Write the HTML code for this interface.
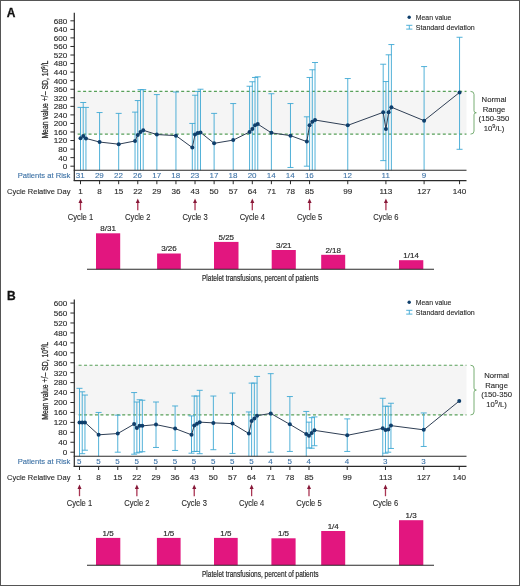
<!DOCTYPE html>
<html><head><meta charset="utf-8"><style>
html,body{margin:0;padding:0;background:#fff;}
svg{display:block;font-family:"Liberation Sans", sans-serif;will-change:transform;}
</style></head><body>
<svg width="520" height="586" viewBox="0 0 520 586">
<rect width="520" height="586" fill="#fff"/>
<rect x="0.5" y="0.5" width="519" height="585" fill="none" stroke="#555" stroke-width="1"/>
<text x="6.7" y="17.3" font-size="12" font-weight="bold" fill="#111" stroke="#111" stroke-width="0.3">A</text>
<text x="6.9" y="299.6" font-size="12" font-weight="bold" fill="#111" stroke="#111" stroke-width="0.3">B</text>
<rect x="74.30" y="91.37" width="392.20" height="42.76" fill="#f5f5f5"/>
<line x1="77.65" y1="91.37" x2="466.50" y2="91.37" stroke="#58a05a" stroke-width="1.15" stroke-dasharray="3,2.45"/>
<line x1="77.65" y1="134.13" x2="466.50" y2="134.13" stroke="#58a05a" stroke-width="1.15" stroke-dasharray="3,2.45"/>
<path d="M470.5,91.36999999999999 Q474.0,91.36999999999999 474.0,94.36999999999999 L474.0,110.75 Q474.0,112.75 476.3,112.75 Q474.0,112.75 474.0,114.75 L474.0,131.13 Q474.0,134.13 470.5,134.13" fill="none" stroke="#6aa565" stroke-width="0.9"/>
<text x="494.00" y="101.95" font-size="7.7" text-anchor="middle" fill="#2b2b2b" stroke="#2b2b2b" stroke-width="0.12" >Normal</text>
<text x="494.00" y="111.60" font-size="7.7" text-anchor="middle" fill="#2b2b2b" stroke="#2b2b2b" stroke-width="0.12" >Range</text>
<text x="494.00" y="121.25" font-size="7.7" text-anchor="middle" fill="#2b2b2b" stroke="#2b2b2b" stroke-width="0.12" >(150-350</text>
<text x="494.00" y="130.90" font-size="7.7" text-anchor="middle" fill="#2b2b2b" stroke="#2b2b2b" stroke-width="0.12" >10<tspan font-size="5.6" dy="-2.8">9</tspan><tspan dy="2.8">/L)</tspan></text>
<line x1="80.50" y1="107.41" x2="80.50" y2="170.30" stroke="#3ea8d4" stroke-width="0.9"/>
<line x1="77.50" y1="107.41" x2="83.50" y2="107.41" stroke="#3ea8d4" stroke-width="0.9"/>
<line x1="83.23" y1="102.49" x2="83.23" y2="170.30" stroke="#3ea8d4" stroke-width="0.9"/>
<line x1="80.23" y1="102.49" x2="86.23" y2="102.49" stroke="#3ea8d4" stroke-width="0.9"/>
<line x1="85.95" y1="107.41" x2="85.95" y2="170.30" stroke="#3ea8d4" stroke-width="0.9"/>
<line x1="82.95" y1="107.41" x2="88.95" y2="107.41" stroke="#3ea8d4" stroke-width="0.9"/>
<line x1="99.59" y1="112.54" x2="99.59" y2="170.30" stroke="#3ea8d4" stroke-width="0.9"/>
<line x1="96.59" y1="112.54" x2="102.59" y2="112.54" stroke="#3ea8d4" stroke-width="0.9"/>
<line x1="118.68" y1="113.39" x2="118.68" y2="170.30" stroke="#3ea8d4" stroke-width="0.9"/>
<line x1="115.68" y1="113.39" x2="121.68" y2="113.39" stroke="#3ea8d4" stroke-width="0.9"/>
<line x1="135.04" y1="112.11" x2="135.04" y2="170.30" stroke="#3ea8d4" stroke-width="0.9"/>
<line x1="132.04" y1="112.11" x2="138.04" y2="112.11" stroke="#3ea8d4" stroke-width="0.9"/>
<line x1="137.77" y1="100.56" x2="137.77" y2="170.30" stroke="#3ea8d4" stroke-width="0.9"/>
<line x1="134.77" y1="100.56" x2="140.77" y2="100.56" stroke="#3ea8d4" stroke-width="0.9"/>
<line x1="140.49" y1="89.66" x2="140.49" y2="170.30" stroke="#3ea8d4" stroke-width="0.9"/>
<line x1="137.49" y1="89.66" x2="143.49" y2="89.66" stroke="#3ea8d4" stroke-width="0.9"/>
<line x1="143.22" y1="89.66" x2="143.22" y2="170.30" stroke="#3ea8d4" stroke-width="0.9"/>
<line x1="140.22" y1="89.66" x2="146.22" y2="89.66" stroke="#3ea8d4" stroke-width="0.9"/>
<line x1="156.86" y1="94.58" x2="156.86" y2="170.30" stroke="#3ea8d4" stroke-width="0.9"/>
<line x1="153.86" y1="94.58" x2="159.86" y2="94.58" stroke="#3ea8d4" stroke-width="0.9"/>
<line x1="175.94" y1="92.01" x2="175.94" y2="170.30" stroke="#3ea8d4" stroke-width="0.9"/>
<line x1="172.94" y1="92.01" x2="178.94" y2="92.01" stroke="#3ea8d4" stroke-width="0.9"/>
<line x1="192.31" y1="123.44" x2="192.31" y2="170.30" stroke="#3ea8d4" stroke-width="0.9"/>
<line x1="189.31" y1="123.44" x2="195.31" y2="123.44" stroke="#3ea8d4" stroke-width="0.9"/>
<line x1="195.03" y1="95.22" x2="195.03" y2="170.30" stroke="#3ea8d4" stroke-width="0.9"/>
<line x1="192.03" y1="95.22" x2="198.03" y2="95.22" stroke="#3ea8d4" stroke-width="0.9"/>
<line x1="197.76" y1="91.37" x2="197.76" y2="170.30" stroke="#3ea8d4" stroke-width="0.9"/>
<line x1="194.76" y1="91.37" x2="200.76" y2="91.37" stroke="#3ea8d4" stroke-width="0.9"/>
<line x1="200.49" y1="89.23" x2="200.49" y2="170.30" stroke="#3ea8d4" stroke-width="0.9"/>
<line x1="197.49" y1="89.23" x2="203.49" y2="89.23" stroke="#3ea8d4" stroke-width="0.9"/>
<line x1="214.12" y1="113.39" x2="214.12" y2="170.30" stroke="#3ea8d4" stroke-width="0.9"/>
<line x1="211.12" y1="113.39" x2="217.12" y2="113.39" stroke="#3ea8d4" stroke-width="0.9"/>
<line x1="233.21" y1="103.56" x2="233.21" y2="170.30" stroke="#3ea8d4" stroke-width="0.9"/>
<line x1="230.21" y1="103.56" x2="236.21" y2="103.56" stroke="#3ea8d4" stroke-width="0.9"/>
<line x1="249.57" y1="86.24" x2="249.57" y2="170.30" stroke="#3ea8d4" stroke-width="0.9"/>
<line x1="246.57" y1="86.24" x2="252.57" y2="86.24" stroke="#3ea8d4" stroke-width="0.9"/>
<line x1="252.30" y1="81.75" x2="252.30" y2="170.30" stroke="#3ea8d4" stroke-width="0.9"/>
<line x1="249.30" y1="81.75" x2="255.30" y2="81.75" stroke="#3ea8d4" stroke-width="0.9"/>
<line x1="255.03" y1="77.47" x2="255.03" y2="170.30" stroke="#3ea8d4" stroke-width="0.9"/>
<line x1="252.03" y1="77.47" x2="258.03" y2="77.47" stroke="#3ea8d4" stroke-width="0.9"/>
<line x1="257.75" y1="76.83" x2="257.75" y2="170.30" stroke="#3ea8d4" stroke-width="0.9"/>
<line x1="254.75" y1="76.83" x2="260.75" y2="76.83" stroke="#3ea8d4" stroke-width="0.9"/>
<line x1="271.39" y1="93.72" x2="271.39" y2="170.30" stroke="#3ea8d4" stroke-width="0.9"/>
<line x1="268.39" y1="93.72" x2="274.39" y2="93.72" stroke="#3ea8d4" stroke-width="0.9"/>
<line x1="290.48" y1="103.56" x2="290.48" y2="167.48" stroke="#3ea8d4" stroke-width="0.9"/>
<line x1="287.48" y1="167.48" x2="293.48" y2="167.48" stroke="#3ea8d4" stroke-width="0.9"/>
<line x1="287.48" y1="103.56" x2="293.48" y2="103.56" stroke="#3ea8d4" stroke-width="0.9"/>
<line x1="306.84" y1="116.81" x2="306.84" y2="166.20" stroke="#3ea8d4" stroke-width="0.9"/>
<line x1="303.84" y1="166.20" x2="309.84" y2="166.20" stroke="#3ea8d4" stroke-width="0.9"/>
<line x1="303.84" y1="116.81" x2="309.84" y2="116.81" stroke="#3ea8d4" stroke-width="0.9"/>
<line x1="309.57" y1="77.47" x2="309.57" y2="170.30" stroke="#3ea8d4" stroke-width="0.9"/>
<line x1="306.57" y1="77.47" x2="312.57" y2="77.47" stroke="#3ea8d4" stroke-width="0.9"/>
<line x1="312.29" y1="69.78" x2="312.29" y2="170.30" stroke="#3ea8d4" stroke-width="0.9"/>
<line x1="309.29" y1="69.78" x2="315.29" y2="69.78" stroke="#3ea8d4" stroke-width="0.9"/>
<line x1="315.02" y1="62.51" x2="315.02" y2="170.30" stroke="#3ea8d4" stroke-width="0.9"/>
<line x1="312.02" y1="62.51" x2="318.02" y2="62.51" stroke="#3ea8d4" stroke-width="0.9"/>
<line x1="347.75" y1="78.54" x2="347.75" y2="170.30" stroke="#3ea8d4" stroke-width="0.9"/>
<line x1="344.75" y1="78.54" x2="350.75" y2="78.54" stroke="#3ea8d4" stroke-width="0.9"/>
<line x1="383.20" y1="64.22" x2="383.20" y2="160.64" stroke="#3ea8d4" stroke-width="0.9"/>
<line x1="380.20" y1="160.64" x2="386.20" y2="160.64" stroke="#3ea8d4" stroke-width="0.9"/>
<line x1="380.20" y1="64.22" x2="386.20" y2="64.22" stroke="#3ea8d4" stroke-width="0.9"/>
<line x1="385.92" y1="81.54" x2="385.92" y2="170.30" stroke="#3ea8d4" stroke-width="0.9"/>
<line x1="382.92" y1="81.54" x2="388.92" y2="81.54" stroke="#3ea8d4" stroke-width="0.9"/>
<line x1="388.65" y1="54.81" x2="388.65" y2="170.30" stroke="#3ea8d4" stroke-width="0.9"/>
<line x1="385.65" y1="54.81" x2="391.65" y2="54.81" stroke="#3ea8d4" stroke-width="0.9"/>
<line x1="391.38" y1="44.55" x2="391.38" y2="170.30" stroke="#3ea8d4" stroke-width="0.9"/>
<line x1="388.38" y1="44.55" x2="394.38" y2="44.55" stroke="#3ea8d4" stroke-width="0.9"/>
<line x1="424.10" y1="66.57" x2="424.10" y2="170.30" stroke="#3ea8d4" stroke-width="0.9"/>
<line x1="421.10" y1="66.57" x2="427.10" y2="66.57" stroke="#3ea8d4" stroke-width="0.9"/>
<line x1="459.55" y1="37.28" x2="459.55" y2="149.31" stroke="#3ea8d4" stroke-width="0.9"/>
<line x1="456.55" y1="149.31" x2="462.55" y2="149.31" stroke="#3ea8d4" stroke-width="0.9"/>
<line x1="456.55" y1="37.28" x2="462.55" y2="37.28" stroke="#3ea8d4" stroke-width="0.9"/>
<polyline points="80.50,138.19 83.23,136.05 85.95,138.41 99.59,142.04 118.68,144.18 135.04,140.97 137.77,134.99 140.49,131.99 143.22,130.28 156.86,134.56 175.94,135.63 192.31,147.60 195.03,134.56 197.76,133.06 200.49,132.42 214.12,143.32 233.21,140.12 249.57,131.99 252.30,129.00 255.03,125.15 257.75,124.08 271.39,132.85 290.48,135.63 306.84,141.61 309.57,125.36 312.29,121.73 315.02,120.02 347.75,125.36 383.20,112.32 385.92,129.00 388.65,112.32 391.38,107.19 424.10,120.66 459.55,92.44" fill="none" stroke="#2f3f55" stroke-width="1"/>
<circle cx="80.50" cy="138.19" r="2" fill="#0f3f6c"/>
<circle cx="83.23" cy="136.05" r="2" fill="#0f3f6c"/>
<circle cx="85.95" cy="138.41" r="2" fill="#0f3f6c"/>
<circle cx="99.59" cy="142.04" r="2" fill="#0f3f6c"/>
<circle cx="118.68" cy="144.18" r="2" fill="#0f3f6c"/>
<circle cx="135.04" cy="140.97" r="2" fill="#0f3f6c"/>
<circle cx="137.77" cy="134.99" r="2" fill="#0f3f6c"/>
<circle cx="140.49" cy="131.99" r="2" fill="#0f3f6c"/>
<circle cx="143.22" cy="130.28" r="2" fill="#0f3f6c"/>
<circle cx="156.86" cy="134.56" r="2" fill="#0f3f6c"/>
<circle cx="175.94" cy="135.63" r="2" fill="#0f3f6c"/>
<circle cx="192.31" cy="147.60" r="2" fill="#0f3f6c"/>
<circle cx="195.03" cy="134.56" r="2" fill="#0f3f6c"/>
<circle cx="197.76" cy="133.06" r="2" fill="#0f3f6c"/>
<circle cx="200.49" cy="132.42" r="2" fill="#0f3f6c"/>
<circle cx="214.12" cy="143.32" r="2" fill="#0f3f6c"/>
<circle cx="233.21" cy="140.12" r="2" fill="#0f3f6c"/>
<circle cx="249.57" cy="131.99" r="2" fill="#0f3f6c"/>
<circle cx="252.30" cy="129.00" r="2" fill="#0f3f6c"/>
<circle cx="255.03" cy="125.15" r="2" fill="#0f3f6c"/>
<circle cx="257.75" cy="124.08" r="2" fill="#0f3f6c"/>
<circle cx="271.39" cy="132.85" r="2" fill="#0f3f6c"/>
<circle cx="290.48" cy="135.63" r="2" fill="#0f3f6c"/>
<circle cx="306.84" cy="141.61" r="2" fill="#0f3f6c"/>
<circle cx="309.57" cy="125.36" r="2" fill="#0f3f6c"/>
<circle cx="312.29" cy="121.73" r="2" fill="#0f3f6c"/>
<circle cx="315.02" cy="120.02" r="2" fill="#0f3f6c"/>
<circle cx="347.75" cy="125.36" r="2" fill="#0f3f6c"/>
<circle cx="383.20" cy="112.32" r="2" fill="#0f3f6c"/>
<circle cx="385.92" cy="129.00" r="2" fill="#0f3f6c"/>
<circle cx="388.65" cy="112.32" r="2" fill="#0f3f6c"/>
<circle cx="391.38" cy="107.19" r="2" fill="#0f3f6c"/>
<circle cx="424.10" cy="120.66" r="2" fill="#0f3f6c"/>
<circle cx="459.55" cy="92.44" r="2" fill="#0f3f6c"/>
<line x1="74.3" y1="12.8" x2="74.3" y2="181.1" stroke="#2a2a2a" stroke-width="1.2"/>
<line x1="73.7" y1="170.3" x2="466.5" y2="170.3" stroke="#2a2a2a" stroke-width="1.1"/>
<line x1="73.7" y1="180.6" x2="466.5" y2="180.6" stroke="#2a2a2a" stroke-width="1.3"/>
<line x1="70.4" y1="166.20" x2="74.3" y2="166.20" stroke="#2a2a2a" stroke-width="1"/>
<text x="67.30" y="169.05" font-size="8.1" text-anchor="end" fill="#2b2b2b" stroke="#2b2b2b" stroke-width="0.15" >0</text>
<line x1="70.4" y1="157.65" x2="74.3" y2="157.65" stroke="#2a2a2a" stroke-width="1"/>
<text x="67.30" y="160.50" font-size="8.1" text-anchor="end" fill="#2b2b2b" stroke="#2b2b2b" stroke-width="0.15" >40</text>
<line x1="70.4" y1="149.10" x2="74.3" y2="149.10" stroke="#2a2a2a" stroke-width="1"/>
<text x="67.30" y="151.95" font-size="8.1" text-anchor="end" fill="#2b2b2b" stroke="#2b2b2b" stroke-width="0.15" >80</text>
<line x1="70.4" y1="140.54" x2="74.3" y2="140.54" stroke="#2a2a2a" stroke-width="1"/>
<text x="67.30" y="143.39" font-size="8.1" text-anchor="end" fill="#2b2b2b" stroke="#2b2b2b" stroke-width="0.15" >120</text>
<line x1="70.4" y1="131.99" x2="74.3" y2="131.99" stroke="#2a2a2a" stroke-width="1"/>
<text x="67.30" y="134.84" font-size="8.1" text-anchor="end" fill="#2b2b2b" stroke="#2b2b2b" stroke-width="0.15" >160</text>
<line x1="70.4" y1="123.44" x2="74.3" y2="123.44" stroke="#2a2a2a" stroke-width="1"/>
<text x="67.30" y="126.29" font-size="8.1" text-anchor="end" fill="#2b2b2b" stroke="#2b2b2b" stroke-width="0.15" >200</text>
<line x1="70.4" y1="114.89" x2="74.3" y2="114.89" stroke="#2a2a2a" stroke-width="1"/>
<text x="67.30" y="117.74" font-size="8.1" text-anchor="end" fill="#2b2b2b" stroke="#2b2b2b" stroke-width="0.15" >240</text>
<line x1="70.4" y1="106.34" x2="74.3" y2="106.34" stroke="#2a2a2a" stroke-width="1"/>
<text x="67.30" y="109.19" font-size="8.1" text-anchor="end" fill="#2b2b2b" stroke="#2b2b2b" stroke-width="0.15" >280</text>
<line x1="70.4" y1="97.78" x2="74.3" y2="97.78" stroke="#2a2a2a" stroke-width="1"/>
<text x="67.30" y="100.63" font-size="8.1" text-anchor="end" fill="#2b2b2b" stroke="#2b2b2b" stroke-width="0.15" >320</text>
<line x1="70.4" y1="89.23" x2="74.3" y2="89.23" stroke="#2a2a2a" stroke-width="1"/>
<text x="67.30" y="92.08" font-size="8.1" text-anchor="end" fill="#2b2b2b" stroke="#2b2b2b" stroke-width="0.15" >360</text>
<line x1="70.4" y1="80.68" x2="74.3" y2="80.68" stroke="#2a2a2a" stroke-width="1"/>
<text x="67.30" y="83.53" font-size="8.1" text-anchor="end" fill="#2b2b2b" stroke="#2b2b2b" stroke-width="0.15" >400</text>
<line x1="70.4" y1="72.13" x2="74.3" y2="72.13" stroke="#2a2a2a" stroke-width="1"/>
<text x="67.30" y="74.98" font-size="8.1" text-anchor="end" fill="#2b2b2b" stroke="#2b2b2b" stroke-width="0.15" >440</text>
<line x1="70.4" y1="63.58" x2="74.3" y2="63.58" stroke="#2a2a2a" stroke-width="1"/>
<text x="67.30" y="66.43" font-size="8.1" text-anchor="end" fill="#2b2b2b" stroke="#2b2b2b" stroke-width="0.15" >480</text>
<line x1="70.4" y1="55.02" x2="74.3" y2="55.02" stroke="#2a2a2a" stroke-width="1"/>
<text x="67.30" y="57.87" font-size="8.1" text-anchor="end" fill="#2b2b2b" stroke="#2b2b2b" stroke-width="0.15" >520</text>
<line x1="70.4" y1="46.47" x2="74.3" y2="46.47" stroke="#2a2a2a" stroke-width="1"/>
<text x="67.30" y="49.32" font-size="8.1" text-anchor="end" fill="#2b2b2b" stroke="#2b2b2b" stroke-width="0.15" >560</text>
<line x1="70.4" y1="37.92" x2="74.3" y2="37.92" stroke="#2a2a2a" stroke-width="1"/>
<text x="67.30" y="40.77" font-size="8.1" text-anchor="end" fill="#2b2b2b" stroke="#2b2b2b" stroke-width="0.15" >600</text>
<line x1="70.4" y1="29.37" x2="74.3" y2="29.37" stroke="#2a2a2a" stroke-width="1"/>
<text x="67.30" y="32.22" font-size="8.1" text-anchor="end" fill="#2b2b2b" stroke="#2b2b2b" stroke-width="0.15" >640</text>
<line x1="70.4" y1="20.82" x2="74.3" y2="20.82" stroke="#2a2a2a" stroke-width="1"/>
<text x="67.30" y="23.67" font-size="8.1" text-anchor="end" fill="#2b2b2b" stroke="#2b2b2b" stroke-width="0.15" >680</text>
<text transform="translate(47.6,99.6) rotate(-90)" font-size="9.1" text-anchor="middle" fill="#2b2b2b" stroke="#2b2b2b" stroke-width="0.28" textLength="78" lengthAdjust="spacingAndGlyphs">Mean value +/– SD, 10<tspan font-size="5.5" dy="-2.8">9</tspan><tspan dy="2.8">/L</tspan></text>
<text x="70.40" y="178.40" font-size="8.0" text-anchor="end" fill="#3d72a6" stroke="#3d72a6" stroke-width="0.12" textLength="52.6" lengthAdjust="spacingAndGlyphs" >Patients at Risk</text>
<text x="80.30" y="178.40" font-size="8.0" text-anchor="middle" fill="#3d72a6" stroke="#3d72a6" stroke-width="0.1" >31</text>
<text x="99.39" y="178.40" font-size="8.0" text-anchor="middle" fill="#3d72a6" stroke="#3d72a6" stroke-width="0.1" >29</text>
<text x="118.48" y="178.40" font-size="8.0" text-anchor="middle" fill="#3d72a6" stroke="#3d72a6" stroke-width="0.1" >22</text>
<text x="137.57" y="178.40" font-size="8.0" text-anchor="middle" fill="#3d72a6" stroke="#3d72a6" stroke-width="0.1" >26</text>
<text x="156.66" y="178.40" font-size="8.0" text-anchor="middle" fill="#3d72a6" stroke="#3d72a6" stroke-width="0.1" >17</text>
<text x="175.75" y="178.40" font-size="8.0" text-anchor="middle" fill="#3d72a6" stroke="#3d72a6" stroke-width="0.1" >18</text>
<text x="194.83" y="178.40" font-size="8.0" text-anchor="middle" fill="#3d72a6" stroke="#3d72a6" stroke-width="0.1" >23</text>
<text x="213.92" y="178.40" font-size="8.0" text-anchor="middle" fill="#3d72a6" stroke="#3d72a6" stroke-width="0.1" >17</text>
<text x="233.01" y="178.40" font-size="8.0" text-anchor="middle" fill="#3d72a6" stroke="#3d72a6" stroke-width="0.1" >18</text>
<text x="252.10" y="178.40" font-size="8.0" text-anchor="middle" fill="#3d72a6" stroke="#3d72a6" stroke-width="0.1" >20</text>
<text x="271.19" y="178.40" font-size="8.0" text-anchor="middle" fill="#3d72a6" stroke="#3d72a6" stroke-width="0.1" >14</text>
<text x="290.28" y="178.40" font-size="8.0" text-anchor="middle" fill="#3d72a6" stroke="#3d72a6" stroke-width="0.1" >14</text>
<text x="309.37" y="178.40" font-size="8.0" text-anchor="middle" fill="#3d72a6" stroke="#3d72a6" stroke-width="0.1" >16</text>
<text x="347.55" y="178.40" font-size="8.0" text-anchor="middle" fill="#3d72a6" stroke="#3d72a6" stroke-width="0.1" >12</text>
<text x="385.72" y="178.40" font-size="8.0" text-anchor="middle" fill="#3d72a6" stroke="#3d72a6" stroke-width="0.1" >11</text>
<text x="423.90" y="178.40" font-size="8.0" text-anchor="middle" fill="#3d72a6" stroke="#3d72a6" stroke-width="0.1" >9</text>
<line x1="80.50" y1="180.6" x2="80.50" y2="184.2" stroke="#2a2a2a" stroke-width="1"/>
<text x="80.50" y="194.20" font-size="8.1" text-anchor="middle" fill="#2b2b2b" stroke="#2b2b2b" stroke-width="0.14" >1</text>
<line x1="99.59" y1="180.6" x2="99.59" y2="184.2" stroke="#2a2a2a" stroke-width="1"/>
<text x="99.59" y="194.20" font-size="8.1" text-anchor="middle" fill="#2b2b2b" stroke="#2b2b2b" stroke-width="0.14" >8</text>
<line x1="118.68" y1="180.6" x2="118.68" y2="184.2" stroke="#2a2a2a" stroke-width="1"/>
<text x="118.68" y="194.20" font-size="8.1" text-anchor="middle" fill="#2b2b2b" stroke="#2b2b2b" stroke-width="0.14" >15</text>
<line x1="137.77" y1="180.6" x2="137.77" y2="184.2" stroke="#2a2a2a" stroke-width="1"/>
<text x="137.77" y="194.20" font-size="8.1" text-anchor="middle" fill="#2b2b2b" stroke="#2b2b2b" stroke-width="0.14" >22</text>
<line x1="156.86" y1="180.6" x2="156.86" y2="184.2" stroke="#2a2a2a" stroke-width="1"/>
<text x="156.86" y="194.20" font-size="8.1" text-anchor="middle" fill="#2b2b2b" stroke="#2b2b2b" stroke-width="0.14" >29</text>
<line x1="175.94" y1="180.6" x2="175.94" y2="184.2" stroke="#2a2a2a" stroke-width="1"/>
<text x="175.94" y="194.20" font-size="8.1" text-anchor="middle" fill="#2b2b2b" stroke="#2b2b2b" stroke-width="0.14" >36</text>
<line x1="195.03" y1="180.6" x2="195.03" y2="184.2" stroke="#2a2a2a" stroke-width="1"/>
<text x="195.03" y="194.20" font-size="8.1" text-anchor="middle" fill="#2b2b2b" stroke="#2b2b2b" stroke-width="0.14" >43</text>
<line x1="214.12" y1="180.6" x2="214.12" y2="184.2" stroke="#2a2a2a" stroke-width="1"/>
<text x="214.12" y="194.20" font-size="8.1" text-anchor="middle" fill="#2b2b2b" stroke="#2b2b2b" stroke-width="0.14" >50</text>
<line x1="233.21" y1="180.6" x2="233.21" y2="184.2" stroke="#2a2a2a" stroke-width="1"/>
<text x="233.21" y="194.20" font-size="8.1" text-anchor="middle" fill="#2b2b2b" stroke="#2b2b2b" stroke-width="0.14" >57</text>
<line x1="252.30" y1="180.6" x2="252.30" y2="184.2" stroke="#2a2a2a" stroke-width="1"/>
<text x="252.30" y="194.20" font-size="8.1" text-anchor="middle" fill="#2b2b2b" stroke="#2b2b2b" stroke-width="0.14" >64</text>
<line x1="271.39" y1="180.6" x2="271.39" y2="184.2" stroke="#2a2a2a" stroke-width="1"/>
<text x="271.39" y="194.20" font-size="8.1" text-anchor="middle" fill="#2b2b2b" stroke="#2b2b2b" stroke-width="0.14" >71</text>
<line x1="290.48" y1="180.6" x2="290.48" y2="184.2" stroke="#2a2a2a" stroke-width="1"/>
<text x="290.48" y="194.20" font-size="8.1" text-anchor="middle" fill="#2b2b2b" stroke="#2b2b2b" stroke-width="0.14" >78</text>
<line x1="309.57" y1="180.6" x2="309.57" y2="184.2" stroke="#2a2a2a" stroke-width="1"/>
<text x="309.57" y="194.20" font-size="8.1" text-anchor="middle" fill="#2b2b2b" stroke="#2b2b2b" stroke-width="0.14" >85</text>
<line x1="347.75" y1="180.6" x2="347.75" y2="184.2" stroke="#2a2a2a" stroke-width="1"/>
<text x="347.75" y="194.20" font-size="8.1" text-anchor="middle" fill="#2b2b2b" stroke="#2b2b2b" stroke-width="0.14" >99</text>
<line x1="385.92" y1="180.6" x2="385.92" y2="184.2" stroke="#2a2a2a" stroke-width="1"/>
<text x="385.92" y="194.20" font-size="8.1" text-anchor="middle" fill="#2b2b2b" stroke="#2b2b2b" stroke-width="0.14" >113</text>
<line x1="424.10" y1="180.6" x2="424.10" y2="184.2" stroke="#2a2a2a" stroke-width="1"/>
<text x="424.10" y="194.20" font-size="8.1" text-anchor="middle" fill="#2b2b2b" stroke="#2b2b2b" stroke-width="0.14" >127</text>
<line x1="459.55" y1="180.6" x2="459.55" y2="184.2" stroke="#2a2a2a" stroke-width="1"/>
<text x="459.55" y="194.20" font-size="8.1" text-anchor="middle" fill="#2b2b2b" stroke="#2b2b2b" stroke-width="0.14" >140</text>
<text x="70.40" y="194.20" font-size="7.9" text-anchor="end" fill="#2b2b2b" stroke="#2b2b2b" stroke-width="0.12" textLength="63.4" lengthAdjust="spacingAndGlyphs" >Cycle Relative Day</text>
<line x1="80.50" y1="201.8" x2="80.50" y2="210.20000000000002" stroke="#aa3553" stroke-width="1.3"/>
<path d="M80.50,198.60000000000002 L82.50,203.10000000000002 L78.50,203.10000000000002 Z" fill="#861737"/>
<text x="80.50" y="220.40" font-size="8.2" text-anchor="middle" fill="#2b2b2b" stroke="#2b2b2b" stroke-width="0.12" textLength="25.3" lengthAdjust="spacingAndGlyphs" >Cycle 1</text>
<line x1="137.77" y1="201.8" x2="137.77" y2="210.20000000000002" stroke="#aa3553" stroke-width="1.3"/>
<path d="M137.77,198.60000000000002 L139.77,203.10000000000002 L135.77,203.10000000000002 Z" fill="#861737"/>
<text x="137.77" y="220.40" font-size="8.2" text-anchor="middle" fill="#2b2b2b" stroke="#2b2b2b" stroke-width="0.12" textLength="25.3" lengthAdjust="spacingAndGlyphs" >Cycle 2</text>
<line x1="195.03" y1="201.8" x2="195.03" y2="210.20000000000002" stroke="#aa3553" stroke-width="1.3"/>
<path d="M195.03,198.60000000000002 L197.03,203.10000000000002 L193.03,203.10000000000002 Z" fill="#861737"/>
<text x="195.03" y="220.40" font-size="8.2" text-anchor="middle" fill="#2b2b2b" stroke="#2b2b2b" stroke-width="0.12" textLength="25.3" lengthAdjust="spacingAndGlyphs" >Cycle 3</text>
<line x1="252.30" y1="201.8" x2="252.30" y2="210.20000000000002" stroke="#aa3553" stroke-width="1.3"/>
<path d="M252.30,198.60000000000002 L254.30,203.10000000000002 L250.30,203.10000000000002 Z" fill="#861737"/>
<text x="252.30" y="220.40" font-size="8.2" text-anchor="middle" fill="#2b2b2b" stroke="#2b2b2b" stroke-width="0.12" textLength="25.3" lengthAdjust="spacingAndGlyphs" >Cycle 4</text>
<line x1="309.57" y1="201.8" x2="309.57" y2="210.20000000000002" stroke="#aa3553" stroke-width="1.3"/>
<path d="M309.57,198.60000000000002 L311.57,203.10000000000002 L307.57,203.10000000000002 Z" fill="#861737"/>
<text x="309.57" y="220.40" font-size="8.2" text-anchor="middle" fill="#2b2b2b" stroke="#2b2b2b" stroke-width="0.12" textLength="25.3" lengthAdjust="spacingAndGlyphs" >Cycle 5</text>
<line x1="385.92" y1="201.8" x2="385.92" y2="210.20000000000002" stroke="#aa3553" stroke-width="1.3"/>
<path d="M385.92,198.60000000000002 L387.92,203.10000000000002 L383.92,203.10000000000002 Z" fill="#861737"/>
<text x="385.92" y="220.40" font-size="8.2" text-anchor="middle" fill="#2b2b2b" stroke="#2b2b2b" stroke-width="0.12" textLength="25.3" lengthAdjust="spacingAndGlyphs" >Cycle 6</text>
<rect x="96" y="233.3" width="24.200000000000003" height="36.0" fill="#e2167f"/>
<text x="108.10" y="231.10" font-size="8.0" text-anchor="middle" fill="#2b2b2b" stroke="#2b2b2b" stroke-width="0.18" >8/31</text>
<rect x="157.1" y="253.5" width="23.700000000000017" height="15.800000000000011" fill="#e2167f"/>
<text x="168.95" y="251.30" font-size="8.0" text-anchor="middle" fill="#2b2b2b" stroke="#2b2b2b" stroke-width="0.18" >3/26</text>
<rect x="214" y="241.9" width="24.5" height="27.400000000000006" fill="#e2167f"/>
<text x="226.25" y="239.70" font-size="8.0" text-anchor="middle" fill="#2b2b2b" stroke="#2b2b2b" stroke-width="0.18" >5/25</text>
<rect x="271.7" y="250" width="24.100000000000023" height="19.30000000000001" fill="#e2167f"/>
<text x="283.75" y="247.80" font-size="8.0" text-anchor="middle" fill="#2b2b2b" stroke="#2b2b2b" stroke-width="0.18" >3/21</text>
<rect x="321.2" y="254.8" width="24.0" height="14.5" fill="#e2167f"/>
<text x="333.20" y="252.60" font-size="8.0" text-anchor="middle" fill="#2b2b2b" stroke="#2b2b2b" stroke-width="0.18" >2/18</text>
<rect x="399" y="260.2" width="24.30000000000001" height="9.100000000000023" fill="#e2167f"/>
<text x="411.15" y="258.00" font-size="8.0" text-anchor="middle" fill="#2b2b2b" stroke="#2b2b2b" stroke-width="0.18" >1/14</text>
<line x1="87" y1="269.3" x2="434" y2="269.3" stroke="#2a2a2a" stroke-width="1.1"/>
<text x="202" y="281.3" font-size="9.3" fill="#2b2b2b" stroke="#2b2b2b" stroke-width="0.22" textLength="116.5" lengthAdjust="spacingAndGlyphs">Platelet transfusions, percent of patients</text>
<rect x="74.30" y="365.23" width="392.20" height="49.70" fill="#f5f5f5"/>
<line x1="78.60" y1="365.23" x2="466.50" y2="365.23" stroke="#58a05a" stroke-width="1.15" stroke-dasharray="3,2.45"/>
<line x1="78.60" y1="414.93" x2="466.50" y2="414.93" stroke="#58a05a" stroke-width="1.15" stroke-dasharray="3,2.45"/>
<path d="M470.5,365.225 Q474.0,365.225 474.0,368.225 L474.0,388.07500000000005 Q474.0,390.07500000000005 476.3,390.07500000000005 Q474.0,390.07500000000005 474.0,392.07500000000005 L474.0,411.925 Q474.0,414.925 470.5,414.925" fill="none" stroke="#6aa565" stroke-width="0.9"/>
<text x="496.60" y="378.48" font-size="7.7" text-anchor="middle" fill="#2b2b2b" stroke="#2b2b2b" stroke-width="0.12" >Normal</text>
<text x="496.60" y="387.98" font-size="7.7" text-anchor="middle" fill="#2b2b2b" stroke="#2b2b2b" stroke-width="0.12" >Range</text>
<text x="496.60" y="397.48" font-size="7.7" text-anchor="middle" fill="#2b2b2b" stroke="#2b2b2b" stroke-width="0.12" >(150-350</text>
<text x="496.60" y="406.98" font-size="7.7" text-anchor="middle" fill="#2b2b2b" stroke="#2b2b2b" stroke-width="0.12" >10<tspan font-size="5.6" dy="-2.8">9</tspan><tspan dy="2.8">/L)</tspan></text>
<line x1="79.50" y1="388.34" x2="79.50" y2="456.30" stroke="#3ea8d4" stroke-width="0.9"/>
<line x1="76.50" y1="388.34" x2="82.50" y2="388.34" stroke="#3ea8d4" stroke-width="0.9"/>
<line x1="82.23" y1="391.81" x2="82.23" y2="453.69" stroke="#3ea8d4" stroke-width="0.9"/>
<line x1="79.23" y1="453.69" x2="85.23" y2="453.69" stroke="#3ea8d4" stroke-width="0.9"/>
<line x1="79.23" y1="391.81" x2="85.23" y2="391.81" stroke="#3ea8d4" stroke-width="0.9"/>
<line x1="84.96" y1="395.04" x2="84.96" y2="450.21" stroke="#3ea8d4" stroke-width="0.9"/>
<line x1="81.96" y1="450.21" x2="87.96" y2="450.21" stroke="#3ea8d4" stroke-width="0.9"/>
<line x1="81.96" y1="395.04" x2="87.96" y2="395.04" stroke="#3ea8d4" stroke-width="0.9"/>
<line x1="98.62" y1="412.44" x2="98.62" y2="456.30" stroke="#3ea8d4" stroke-width="0.9"/>
<line x1="95.62" y1="412.44" x2="101.62" y2="412.44" stroke="#3ea8d4" stroke-width="0.9"/>
<line x1="117.75" y1="415.17" x2="117.75" y2="452.20" stroke="#3ea8d4" stroke-width="0.9"/>
<line x1="114.75" y1="452.20" x2="120.75" y2="452.20" stroke="#3ea8d4" stroke-width="0.9"/>
<line x1="114.75" y1="415.17" x2="120.75" y2="415.17" stroke="#3ea8d4" stroke-width="0.9"/>
<line x1="134.14" y1="392.56" x2="134.14" y2="454.19" stroke="#3ea8d4" stroke-width="0.9"/>
<line x1="131.14" y1="454.19" x2="137.14" y2="454.19" stroke="#3ea8d4" stroke-width="0.9"/>
<line x1="131.14" y1="392.56" x2="137.14" y2="392.56" stroke="#3ea8d4" stroke-width="0.9"/>
<line x1="136.87" y1="402.00" x2="136.87" y2="452.95" stroke="#3ea8d4" stroke-width="0.9"/>
<line x1="133.87" y1="452.95" x2="139.87" y2="452.95" stroke="#3ea8d4" stroke-width="0.9"/>
<line x1="133.87" y1="402.00" x2="139.87" y2="402.00" stroke="#3ea8d4" stroke-width="0.9"/>
<line x1="139.60" y1="399.77" x2="139.60" y2="452.20" stroke="#3ea8d4" stroke-width="0.9"/>
<line x1="136.60" y1="452.20" x2="142.60" y2="452.20" stroke="#3ea8d4" stroke-width="0.9"/>
<line x1="136.60" y1="399.77" x2="142.60" y2="399.77" stroke="#3ea8d4" stroke-width="0.9"/>
<line x1="142.34" y1="400.26" x2="142.34" y2="451.70" stroke="#3ea8d4" stroke-width="0.9"/>
<line x1="139.34" y1="451.70" x2="145.34" y2="451.70" stroke="#3ea8d4" stroke-width="0.9"/>
<line x1="139.34" y1="400.26" x2="145.34" y2="400.26" stroke="#3ea8d4" stroke-width="0.9"/>
<line x1="156.00" y1="402.00" x2="156.00" y2="447.48" stroke="#3ea8d4" stroke-width="0.9"/>
<line x1="153.00" y1="447.48" x2="159.00" y2="447.48" stroke="#3ea8d4" stroke-width="0.9"/>
<line x1="153.00" y1="402.00" x2="159.00" y2="402.00" stroke="#3ea8d4" stroke-width="0.9"/>
<line x1="175.12" y1="405.98" x2="175.12" y2="450.46" stroke="#3ea8d4" stroke-width="0.9"/>
<line x1="172.12" y1="450.46" x2="178.12" y2="450.46" stroke="#3ea8d4" stroke-width="0.9"/>
<line x1="172.12" y1="405.98" x2="178.12" y2="405.98" stroke="#3ea8d4" stroke-width="0.9"/>
<line x1="191.51" y1="415.92" x2="191.51" y2="453.19" stroke="#3ea8d4" stroke-width="0.9"/>
<line x1="188.51" y1="453.19" x2="194.51" y2="453.19" stroke="#3ea8d4" stroke-width="0.9"/>
<line x1="188.51" y1="415.92" x2="194.51" y2="415.92" stroke="#3ea8d4" stroke-width="0.9"/>
<line x1="194.24" y1="396.04" x2="194.24" y2="451.45" stroke="#3ea8d4" stroke-width="0.9"/>
<line x1="191.24" y1="451.45" x2="197.24" y2="451.45" stroke="#3ea8d4" stroke-width="0.9"/>
<line x1="191.24" y1="396.04" x2="197.24" y2="396.04" stroke="#3ea8d4" stroke-width="0.9"/>
<line x1="196.98" y1="396.04" x2="196.98" y2="451.45" stroke="#3ea8d4" stroke-width="0.9"/>
<line x1="193.98" y1="451.45" x2="199.98" y2="451.45" stroke="#3ea8d4" stroke-width="0.9"/>
<line x1="193.98" y1="396.04" x2="199.98" y2="396.04" stroke="#3ea8d4" stroke-width="0.9"/>
<line x1="199.71" y1="390.32" x2="199.71" y2="453.69" stroke="#3ea8d4" stroke-width="0.9"/>
<line x1="196.71" y1="453.69" x2="202.71" y2="453.69" stroke="#3ea8d4" stroke-width="0.9"/>
<line x1="196.71" y1="390.32" x2="202.71" y2="390.32" stroke="#3ea8d4" stroke-width="0.9"/>
<line x1="213.37" y1="396.04" x2="213.37" y2="449.71" stroke="#3ea8d4" stroke-width="0.9"/>
<line x1="210.37" y1="449.71" x2="216.37" y2="449.71" stroke="#3ea8d4" stroke-width="0.9"/>
<line x1="210.37" y1="396.04" x2="216.37" y2="396.04" stroke="#3ea8d4" stroke-width="0.9"/>
<line x1="232.49" y1="393.06" x2="232.49" y2="453.44" stroke="#3ea8d4" stroke-width="0.9"/>
<line x1="229.49" y1="453.44" x2="235.49" y2="453.44" stroke="#3ea8d4" stroke-width="0.9"/>
<line x1="229.49" y1="393.06" x2="235.49" y2="393.06" stroke="#3ea8d4" stroke-width="0.9"/>
<line x1="248.88" y1="411.94" x2="248.88" y2="456.30" stroke="#3ea8d4" stroke-width="0.9"/>
<line x1="245.88" y1="411.94" x2="251.88" y2="411.94" stroke="#3ea8d4" stroke-width="0.9"/>
<line x1="251.62" y1="383.12" x2="251.62" y2="456.30" stroke="#3ea8d4" stroke-width="0.9"/>
<line x1="248.62" y1="383.12" x2="254.62" y2="383.12" stroke="#3ea8d4" stroke-width="0.9"/>
<line x1="254.35" y1="383.12" x2="254.35" y2="456.30" stroke="#3ea8d4" stroke-width="0.9"/>
<line x1="251.35" y1="383.12" x2="257.35" y2="383.12" stroke="#3ea8d4" stroke-width="0.9"/>
<line x1="257.08" y1="376.41" x2="257.08" y2="456.30" stroke="#3ea8d4" stroke-width="0.9"/>
<line x1="254.08" y1="376.41" x2="260.08" y2="376.41" stroke="#3ea8d4" stroke-width="0.9"/>
<line x1="270.74" y1="373.67" x2="270.74" y2="452.20" stroke="#3ea8d4" stroke-width="0.9"/>
<line x1="267.74" y1="452.20" x2="273.74" y2="452.20" stroke="#3ea8d4" stroke-width="0.9"/>
<line x1="267.74" y1="373.67" x2="273.74" y2="373.67" stroke="#3ea8d4" stroke-width="0.9"/>
<line x1="289.86" y1="396.54" x2="289.86" y2="451.45" stroke="#3ea8d4" stroke-width="0.9"/>
<line x1="286.86" y1="451.45" x2="292.86" y2="451.45" stroke="#3ea8d4" stroke-width="0.9"/>
<line x1="286.86" y1="396.54" x2="292.86" y2="396.54" stroke="#3ea8d4" stroke-width="0.9"/>
<line x1="306.26" y1="411.45" x2="306.26" y2="456.30" stroke="#3ea8d4" stroke-width="0.9"/>
<line x1="303.26" y1="411.45" x2="309.26" y2="411.45" stroke="#3ea8d4" stroke-width="0.9"/>
<line x1="308.99" y1="422.13" x2="308.99" y2="447.98" stroke="#3ea8d4" stroke-width="0.9"/>
<line x1="305.99" y1="447.98" x2="311.99" y2="447.98" stroke="#3ea8d4" stroke-width="0.9"/>
<line x1="305.99" y1="422.13" x2="311.99" y2="422.13" stroke="#3ea8d4" stroke-width="0.9"/>
<line x1="311.72" y1="417.66" x2="311.72" y2="448.22" stroke="#3ea8d4" stroke-width="0.9"/>
<line x1="308.72" y1="448.22" x2="314.72" y2="448.22" stroke="#3ea8d4" stroke-width="0.9"/>
<line x1="308.72" y1="417.66" x2="314.72" y2="417.66" stroke="#3ea8d4" stroke-width="0.9"/>
<line x1="314.45" y1="416.91" x2="314.45" y2="445.74" stroke="#3ea8d4" stroke-width="0.9"/>
<line x1="311.45" y1="445.74" x2="317.45" y2="445.74" stroke="#3ea8d4" stroke-width="0.9"/>
<line x1="311.45" y1="416.91" x2="317.45" y2="416.91" stroke="#3ea8d4" stroke-width="0.9"/>
<line x1="347.24" y1="418.90" x2="347.24" y2="451.45" stroke="#3ea8d4" stroke-width="0.9"/>
<line x1="344.24" y1="451.45" x2="350.24" y2="451.45" stroke="#3ea8d4" stroke-width="0.9"/>
<line x1="344.24" y1="418.90" x2="350.24" y2="418.90" stroke="#3ea8d4" stroke-width="0.9"/>
<line x1="382.75" y1="398.28" x2="382.75" y2="456.30" stroke="#3ea8d4" stroke-width="0.9"/>
<line x1="379.75" y1="398.28" x2="385.75" y2="398.28" stroke="#3ea8d4" stroke-width="0.9"/>
<line x1="385.48" y1="406.23" x2="385.48" y2="453.19" stroke="#3ea8d4" stroke-width="0.9"/>
<line x1="382.48" y1="453.19" x2="388.48" y2="453.19" stroke="#3ea8d4" stroke-width="0.9"/>
<line x1="382.48" y1="406.23" x2="388.48" y2="406.23" stroke="#3ea8d4" stroke-width="0.9"/>
<line x1="388.22" y1="406.23" x2="388.22" y2="452.20" stroke="#3ea8d4" stroke-width="0.9"/>
<line x1="385.22" y1="452.20" x2="391.22" y2="452.20" stroke="#3ea8d4" stroke-width="0.9"/>
<line x1="385.22" y1="406.23" x2="391.22" y2="406.23" stroke="#3ea8d4" stroke-width="0.9"/>
<line x1="390.95" y1="403.25" x2="390.95" y2="448.47" stroke="#3ea8d4" stroke-width="0.9"/>
<line x1="387.95" y1="448.47" x2="393.95" y2="448.47" stroke="#3ea8d4" stroke-width="0.9"/>
<line x1="387.95" y1="403.25" x2="393.95" y2="403.25" stroke="#3ea8d4" stroke-width="0.9"/>
<line x1="423.73" y1="412.94" x2="423.73" y2="446.48" stroke="#3ea8d4" stroke-width="0.9"/>
<line x1="420.73" y1="446.48" x2="426.73" y2="446.48" stroke="#3ea8d4" stroke-width="0.9"/>
<line x1="420.73" y1="412.94" x2="426.73" y2="412.94" stroke="#3ea8d4" stroke-width="0.9"/>
<polyline points="79.50,422.38 82.23,422.38 84.96,422.38 98.62,434.81 117.75,433.56 134.14,424.12 136.87,428.10 139.60,425.86 142.34,425.86 156.00,424.62 175.12,428.59 191.51,434.81 194.24,425.61 196.98,423.87 199.71,422.13 213.37,422.88 232.49,423.62 248.88,433.56 251.62,420.89 254.35,418.40 257.08,415.67 270.74,413.43 289.86,424.37 306.26,434.06 308.99,435.80 311.72,433.07 314.45,430.33 347.24,435.30 382.75,428.34 385.48,430.08 388.22,429.59 390.95,425.61 423.73,429.83 459.25,401.01" fill="none" stroke="#2f3f55" stroke-width="1"/>
<circle cx="79.50" cy="422.38" r="2" fill="#0f3f6c"/>
<circle cx="82.23" cy="422.38" r="2" fill="#0f3f6c"/>
<circle cx="84.96" cy="422.38" r="2" fill="#0f3f6c"/>
<circle cx="98.62" cy="434.81" r="2" fill="#0f3f6c"/>
<circle cx="117.75" cy="433.56" r="2" fill="#0f3f6c"/>
<circle cx="134.14" cy="424.12" r="2" fill="#0f3f6c"/>
<circle cx="136.87" cy="428.10" r="2" fill="#0f3f6c"/>
<circle cx="139.60" cy="425.86" r="2" fill="#0f3f6c"/>
<circle cx="142.34" cy="425.86" r="2" fill="#0f3f6c"/>
<circle cx="156.00" cy="424.62" r="2" fill="#0f3f6c"/>
<circle cx="175.12" cy="428.59" r="2" fill="#0f3f6c"/>
<circle cx="191.51" cy="434.81" r="2" fill="#0f3f6c"/>
<circle cx="194.24" cy="425.61" r="2" fill="#0f3f6c"/>
<circle cx="196.98" cy="423.87" r="2" fill="#0f3f6c"/>
<circle cx="199.71" cy="422.13" r="2" fill="#0f3f6c"/>
<circle cx="213.37" cy="422.88" r="2" fill="#0f3f6c"/>
<circle cx="232.49" cy="423.62" r="2" fill="#0f3f6c"/>
<circle cx="248.88" cy="433.56" r="2" fill="#0f3f6c"/>
<circle cx="251.62" cy="420.89" r="2" fill="#0f3f6c"/>
<circle cx="254.35" cy="418.40" r="2" fill="#0f3f6c"/>
<circle cx="257.08" cy="415.67" r="2" fill="#0f3f6c"/>
<circle cx="270.74" cy="413.43" r="2" fill="#0f3f6c"/>
<circle cx="289.86" cy="424.37" r="2" fill="#0f3f6c"/>
<circle cx="306.26" cy="434.06" r="2" fill="#0f3f6c"/>
<circle cx="308.99" cy="435.80" r="2" fill="#0f3f6c"/>
<circle cx="311.72" cy="433.07" r="2" fill="#0f3f6c"/>
<circle cx="314.45" cy="430.33" r="2" fill="#0f3f6c"/>
<circle cx="347.24" cy="435.30" r="2" fill="#0f3f6c"/>
<circle cx="382.75" cy="428.34" r="2" fill="#0f3f6c"/>
<circle cx="385.48" cy="430.08" r="2" fill="#0f3f6c"/>
<circle cx="388.22" cy="429.59" r="2" fill="#0f3f6c"/>
<circle cx="390.95" cy="425.61" r="2" fill="#0f3f6c"/>
<circle cx="423.73" cy="429.83" r="2" fill="#0f3f6c"/>
<circle cx="459.25" cy="401.01" r="2" fill="#0f3f6c"/>
<line x1="74.3" y1="299.5" x2="74.3" y2="466.9" stroke="#2a2a2a" stroke-width="1.2"/>
<line x1="73.7" y1="456.3" x2="466.5" y2="456.3" stroke="#2a2a2a" stroke-width="1.1"/>
<line x1="73.7" y1="466.4" x2="466.5" y2="466.4" stroke="#2a2a2a" stroke-width="1.3"/>
<line x1="70.4" y1="452.20" x2="74.3" y2="452.20" stroke="#2a2a2a" stroke-width="1"/>
<text x="67.30" y="455.05" font-size="8.1" text-anchor="end" fill="#2b2b2b" stroke="#2b2b2b" stroke-width="0.15" >0</text>
<line x1="70.4" y1="442.26" x2="74.3" y2="442.26" stroke="#2a2a2a" stroke-width="1"/>
<text x="67.30" y="445.11" font-size="8.1" text-anchor="end" fill="#2b2b2b" stroke="#2b2b2b" stroke-width="0.15" >40</text>
<line x1="70.4" y1="432.32" x2="74.3" y2="432.32" stroke="#2a2a2a" stroke-width="1"/>
<text x="67.30" y="435.17" font-size="8.1" text-anchor="end" fill="#2b2b2b" stroke="#2b2b2b" stroke-width="0.15" >80</text>
<line x1="70.4" y1="422.38" x2="74.3" y2="422.38" stroke="#2a2a2a" stroke-width="1"/>
<text x="67.30" y="425.23" font-size="8.1" text-anchor="end" fill="#2b2b2b" stroke="#2b2b2b" stroke-width="0.15" >120</text>
<line x1="70.4" y1="412.44" x2="74.3" y2="412.44" stroke="#2a2a2a" stroke-width="1"/>
<text x="67.30" y="415.29" font-size="8.1" text-anchor="end" fill="#2b2b2b" stroke="#2b2b2b" stroke-width="0.15" >160</text>
<line x1="70.4" y1="402.50" x2="74.3" y2="402.50" stroke="#2a2a2a" stroke-width="1"/>
<text x="67.30" y="405.35" font-size="8.1" text-anchor="end" fill="#2b2b2b" stroke="#2b2b2b" stroke-width="0.15" >200</text>
<line x1="70.4" y1="392.56" x2="74.3" y2="392.56" stroke="#2a2a2a" stroke-width="1"/>
<text x="67.30" y="395.41" font-size="8.1" text-anchor="end" fill="#2b2b2b" stroke="#2b2b2b" stroke-width="0.15" >240</text>
<line x1="70.4" y1="382.62" x2="74.3" y2="382.62" stroke="#2a2a2a" stroke-width="1"/>
<text x="67.30" y="385.47" font-size="8.1" text-anchor="end" fill="#2b2b2b" stroke="#2b2b2b" stroke-width="0.15" >280</text>
<line x1="70.4" y1="372.68" x2="74.3" y2="372.68" stroke="#2a2a2a" stroke-width="1"/>
<text x="67.30" y="375.53" font-size="8.1" text-anchor="end" fill="#2b2b2b" stroke="#2b2b2b" stroke-width="0.15" >320</text>
<line x1="70.4" y1="362.74" x2="74.3" y2="362.74" stroke="#2a2a2a" stroke-width="1"/>
<text x="67.30" y="365.59" font-size="8.1" text-anchor="end" fill="#2b2b2b" stroke="#2b2b2b" stroke-width="0.15" >360</text>
<line x1="70.4" y1="352.80" x2="74.3" y2="352.80" stroke="#2a2a2a" stroke-width="1"/>
<text x="67.30" y="355.65" font-size="8.1" text-anchor="end" fill="#2b2b2b" stroke="#2b2b2b" stroke-width="0.15" >400</text>
<line x1="70.4" y1="342.86" x2="74.3" y2="342.86" stroke="#2a2a2a" stroke-width="1"/>
<text x="67.30" y="345.71" font-size="8.1" text-anchor="end" fill="#2b2b2b" stroke="#2b2b2b" stroke-width="0.15" >440</text>
<line x1="70.4" y1="332.92" x2="74.3" y2="332.92" stroke="#2a2a2a" stroke-width="1"/>
<text x="67.30" y="335.77" font-size="8.1" text-anchor="end" fill="#2b2b2b" stroke="#2b2b2b" stroke-width="0.15" >480</text>
<line x1="70.4" y1="322.98" x2="74.3" y2="322.98" stroke="#2a2a2a" stroke-width="1"/>
<text x="67.30" y="325.83" font-size="8.1" text-anchor="end" fill="#2b2b2b" stroke="#2b2b2b" stroke-width="0.15" >520</text>
<line x1="70.4" y1="313.04" x2="74.3" y2="313.04" stroke="#2a2a2a" stroke-width="1"/>
<text x="67.30" y="315.89" font-size="8.1" text-anchor="end" fill="#2b2b2b" stroke="#2b2b2b" stroke-width="0.15" >560</text>
<line x1="70.4" y1="303.10" x2="74.3" y2="303.10" stroke="#2a2a2a" stroke-width="1"/>
<text x="67.30" y="305.95" font-size="8.1" text-anchor="end" fill="#2b2b2b" stroke="#2b2b2b" stroke-width="0.15" >600</text>
<text transform="translate(47.6,380.8) rotate(-90)" font-size="9.1" text-anchor="middle" fill="#2b2b2b" stroke="#2b2b2b" stroke-width="0.28" textLength="78" lengthAdjust="spacingAndGlyphs">Mean value +/– SD, 10<tspan font-size="5.5" dy="-2.8">9</tspan><tspan dy="2.8">/L</tspan></text>
<text x="70.40" y="464.10" font-size="8.0" text-anchor="end" fill="#3d72a6" stroke="#3d72a6" stroke-width="0.12" textLength="52.6" lengthAdjust="spacingAndGlyphs" >Patients at Risk</text>
<text x="79.30" y="464.10" font-size="8.0" text-anchor="middle" fill="#3d72a6" stroke="#3d72a6" stroke-width="0.1" >5</text>
<text x="98.42" y="464.10" font-size="8.0" text-anchor="middle" fill="#3d72a6" stroke="#3d72a6" stroke-width="0.1" >5</text>
<text x="117.55" y="464.10" font-size="8.0" text-anchor="middle" fill="#3d72a6" stroke="#3d72a6" stroke-width="0.1" >5</text>
<text x="136.67" y="464.10" font-size="8.0" text-anchor="middle" fill="#3d72a6" stroke="#3d72a6" stroke-width="0.1" >5</text>
<text x="155.80" y="464.10" font-size="8.0" text-anchor="middle" fill="#3d72a6" stroke="#3d72a6" stroke-width="0.1" >5</text>
<text x="174.92" y="464.10" font-size="8.0" text-anchor="middle" fill="#3d72a6" stroke="#3d72a6" stroke-width="0.1" >5</text>
<text x="194.04" y="464.10" font-size="8.0" text-anchor="middle" fill="#3d72a6" stroke="#3d72a6" stroke-width="0.1" >5</text>
<text x="213.17" y="464.10" font-size="8.0" text-anchor="middle" fill="#3d72a6" stroke="#3d72a6" stroke-width="0.1" >5</text>
<text x="232.29" y="464.10" font-size="8.0" text-anchor="middle" fill="#3d72a6" stroke="#3d72a6" stroke-width="0.1" >5</text>
<text x="251.42" y="464.10" font-size="8.0" text-anchor="middle" fill="#3d72a6" stroke="#3d72a6" stroke-width="0.1" >5</text>
<text x="270.54" y="464.10" font-size="8.0" text-anchor="middle" fill="#3d72a6" stroke="#3d72a6" stroke-width="0.1" >4</text>
<text x="289.66" y="464.10" font-size="8.0" text-anchor="middle" fill="#3d72a6" stroke="#3d72a6" stroke-width="0.1" >5</text>
<text x="308.79" y="464.10" font-size="8.0" text-anchor="middle" fill="#3d72a6" stroke="#3d72a6" stroke-width="0.1" >4</text>
<text x="347.04" y="464.10" font-size="8.0" text-anchor="middle" fill="#3d72a6" stroke="#3d72a6" stroke-width="0.1" >4</text>
<text x="385.28" y="464.10" font-size="8.0" text-anchor="middle" fill="#3d72a6" stroke="#3d72a6" stroke-width="0.1" >3</text>
<text x="423.53" y="464.10" font-size="8.0" text-anchor="middle" fill="#3d72a6" stroke="#3d72a6" stroke-width="0.1" >3</text>
<line x1="79.50" y1="466.4" x2="79.50" y2="470.0" stroke="#2a2a2a" stroke-width="1"/>
<text x="79.50" y="479.60" font-size="8.1" text-anchor="middle" fill="#2b2b2b" stroke="#2b2b2b" stroke-width="0.14" >1</text>
<line x1="98.62" y1="466.4" x2="98.62" y2="470.0" stroke="#2a2a2a" stroke-width="1"/>
<text x="98.62" y="479.60" font-size="8.1" text-anchor="middle" fill="#2b2b2b" stroke="#2b2b2b" stroke-width="0.14" >8</text>
<line x1="117.75" y1="466.4" x2="117.75" y2="470.0" stroke="#2a2a2a" stroke-width="1"/>
<text x="117.75" y="479.60" font-size="8.1" text-anchor="middle" fill="#2b2b2b" stroke="#2b2b2b" stroke-width="0.14" >15</text>
<line x1="136.87" y1="466.4" x2="136.87" y2="470.0" stroke="#2a2a2a" stroke-width="1"/>
<text x="136.87" y="479.60" font-size="8.1" text-anchor="middle" fill="#2b2b2b" stroke="#2b2b2b" stroke-width="0.14" >22</text>
<line x1="156.00" y1="466.4" x2="156.00" y2="470.0" stroke="#2a2a2a" stroke-width="1"/>
<text x="156.00" y="479.60" font-size="8.1" text-anchor="middle" fill="#2b2b2b" stroke="#2b2b2b" stroke-width="0.14" >29</text>
<line x1="175.12" y1="466.4" x2="175.12" y2="470.0" stroke="#2a2a2a" stroke-width="1"/>
<text x="175.12" y="479.60" font-size="8.1" text-anchor="middle" fill="#2b2b2b" stroke="#2b2b2b" stroke-width="0.14" >36</text>
<line x1="194.24" y1="466.4" x2="194.24" y2="470.0" stroke="#2a2a2a" stroke-width="1"/>
<text x="194.24" y="479.60" font-size="8.1" text-anchor="middle" fill="#2b2b2b" stroke="#2b2b2b" stroke-width="0.14" >43</text>
<line x1="213.37" y1="466.4" x2="213.37" y2="470.0" stroke="#2a2a2a" stroke-width="1"/>
<text x="213.37" y="479.60" font-size="8.1" text-anchor="middle" fill="#2b2b2b" stroke="#2b2b2b" stroke-width="0.14" >50</text>
<line x1="232.49" y1="466.4" x2="232.49" y2="470.0" stroke="#2a2a2a" stroke-width="1"/>
<text x="232.49" y="479.60" font-size="8.1" text-anchor="middle" fill="#2b2b2b" stroke="#2b2b2b" stroke-width="0.14" >57</text>
<line x1="251.62" y1="466.4" x2="251.62" y2="470.0" stroke="#2a2a2a" stroke-width="1"/>
<text x="251.62" y="479.60" font-size="8.1" text-anchor="middle" fill="#2b2b2b" stroke="#2b2b2b" stroke-width="0.14" >64</text>
<line x1="270.74" y1="466.4" x2="270.74" y2="470.0" stroke="#2a2a2a" stroke-width="1"/>
<text x="270.74" y="479.60" font-size="8.1" text-anchor="middle" fill="#2b2b2b" stroke="#2b2b2b" stroke-width="0.14" >71</text>
<line x1="289.86" y1="466.4" x2="289.86" y2="470.0" stroke="#2a2a2a" stroke-width="1"/>
<text x="289.86" y="479.60" font-size="8.1" text-anchor="middle" fill="#2b2b2b" stroke="#2b2b2b" stroke-width="0.14" >78</text>
<line x1="308.99" y1="466.4" x2="308.99" y2="470.0" stroke="#2a2a2a" stroke-width="1"/>
<text x="308.99" y="479.60" font-size="8.1" text-anchor="middle" fill="#2b2b2b" stroke="#2b2b2b" stroke-width="0.14" >85</text>
<line x1="347.24" y1="466.4" x2="347.24" y2="470.0" stroke="#2a2a2a" stroke-width="1"/>
<text x="347.24" y="479.60" font-size="8.1" text-anchor="middle" fill="#2b2b2b" stroke="#2b2b2b" stroke-width="0.14" >99</text>
<line x1="385.48" y1="466.4" x2="385.48" y2="470.0" stroke="#2a2a2a" stroke-width="1"/>
<text x="385.48" y="479.60" font-size="8.1" text-anchor="middle" fill="#2b2b2b" stroke="#2b2b2b" stroke-width="0.14" >113</text>
<line x1="423.73" y1="466.4" x2="423.73" y2="470.0" stroke="#2a2a2a" stroke-width="1"/>
<text x="423.73" y="479.60" font-size="8.1" text-anchor="middle" fill="#2b2b2b" stroke="#2b2b2b" stroke-width="0.14" >127</text>
<line x1="459.25" y1="466.4" x2="459.25" y2="470.0" stroke="#2a2a2a" stroke-width="1"/>
<text x="459.25" y="479.60" font-size="8.1" text-anchor="middle" fill="#2b2b2b" stroke="#2b2b2b" stroke-width="0.14" >140</text>
<text x="70.40" y="479.60" font-size="7.9" text-anchor="end" fill="#2b2b2b" stroke="#2b2b2b" stroke-width="0.12" textLength="63.4" lengthAdjust="spacingAndGlyphs" >Cycle Relative Day</text>
<line x1="79.50" y1="487.8" x2="79.50" y2="496.2" stroke="#aa3553" stroke-width="1.3"/>
<path d="M79.50,484.6 L81.50,489.1 L77.50,489.1 Z" fill="#861737"/>
<text x="79.50" y="506.20" font-size="8.2" text-anchor="middle" fill="#2b2b2b" stroke="#2b2b2b" stroke-width="0.12" textLength="25.3" lengthAdjust="spacingAndGlyphs" >Cycle 1</text>
<line x1="136.87" y1="487.8" x2="136.87" y2="496.2" stroke="#aa3553" stroke-width="1.3"/>
<path d="M136.87,484.6 L138.87,489.1 L134.87,489.1 Z" fill="#861737"/>
<text x="136.87" y="506.20" font-size="8.2" text-anchor="middle" fill="#2b2b2b" stroke="#2b2b2b" stroke-width="0.12" textLength="25.3" lengthAdjust="spacingAndGlyphs" >Cycle 2</text>
<line x1="194.24" y1="487.8" x2="194.24" y2="496.2" stroke="#aa3553" stroke-width="1.3"/>
<path d="M194.24,484.6 L196.24,489.1 L192.24,489.1 Z" fill="#861737"/>
<text x="194.24" y="506.20" font-size="8.2" text-anchor="middle" fill="#2b2b2b" stroke="#2b2b2b" stroke-width="0.12" textLength="25.3" lengthAdjust="spacingAndGlyphs" >Cycle 3</text>
<line x1="251.62" y1="487.8" x2="251.62" y2="496.2" stroke="#aa3553" stroke-width="1.3"/>
<path d="M251.62,484.6 L253.62,489.1 L249.62,489.1 Z" fill="#861737"/>
<text x="251.62" y="506.20" font-size="8.2" text-anchor="middle" fill="#2b2b2b" stroke="#2b2b2b" stroke-width="0.12" textLength="25.3" lengthAdjust="spacingAndGlyphs" >Cycle 4</text>
<line x1="308.99" y1="487.8" x2="308.99" y2="496.2" stroke="#aa3553" stroke-width="1.3"/>
<path d="M308.99,484.6 L310.99,489.1 L306.99,489.1 Z" fill="#861737"/>
<text x="308.99" y="506.20" font-size="8.2" text-anchor="middle" fill="#2b2b2b" stroke="#2b2b2b" stroke-width="0.12" textLength="25.3" lengthAdjust="spacingAndGlyphs" >Cycle 5</text>
<line x1="385.48" y1="487.8" x2="385.48" y2="496.2" stroke="#aa3553" stroke-width="1.3"/>
<path d="M385.48,484.6 L387.48,489.1 L383.48,489.1 Z" fill="#861737"/>
<text x="385.48" y="506.20" font-size="8.2" text-anchor="middle" fill="#2b2b2b" stroke="#2b2b2b" stroke-width="0.12" textLength="25.3" lengthAdjust="spacingAndGlyphs" >Cycle 6</text>
<rect x="96" y="537.9" width="24.299999999999997" height="27.399999999999977" fill="#e2167f"/>
<text x="108.15" y="535.70" font-size="8.0" text-anchor="middle" fill="#2b2b2b" stroke="#2b2b2b" stroke-width="0.18" >1/5</text>
<rect x="156.9" y="537.9" width="23.69999999999999" height="27.399999999999977" fill="#e2167f"/>
<text x="168.75" y="535.70" font-size="8.0" text-anchor="middle" fill="#2b2b2b" stroke="#2b2b2b" stroke-width="0.18" >1/5</text>
<rect x="214" y="537.9" width="23.69999999999999" height="27.399999999999977" fill="#e2167f"/>
<text x="225.85" y="535.70" font-size="8.0" text-anchor="middle" fill="#2b2b2b" stroke="#2b2b2b" stroke-width="0.18" >1/5</text>
<rect x="271.4" y="538.3" width="24.200000000000045" height="27.0" fill="#e2167f"/>
<text x="283.50" y="536.10" font-size="8.0" text-anchor="middle" fill="#2b2b2b" stroke="#2b2b2b" stroke-width="0.18" >1/5</text>
<rect x="321.2" y="531" width="24.0" height="34.299999999999955" fill="#e2167f"/>
<text x="333.20" y="528.80" font-size="8.0" text-anchor="middle" fill="#2b2b2b" stroke="#2b2b2b" stroke-width="0.18" >1/4</text>
<rect x="399" y="520.2" width="24.30000000000001" height="45.09999999999991" fill="#e2167f"/>
<text x="411.15" y="518.00" font-size="8.0" text-anchor="middle" fill="#2b2b2b" stroke="#2b2b2b" stroke-width="0.18" >1/3</text>
<line x1="87" y1="565.3" x2="434" y2="565.3" stroke="#2a2a2a" stroke-width="1.1"/>
<text x="202" y="577.1" font-size="9.3" fill="#2b2b2b" stroke="#2b2b2b" stroke-width="0.22" textLength="116.5" lengthAdjust="spacingAndGlyphs">Platelet transfusions, percent of patients</text>
<circle cx="409.2" cy="17.20" r="1.7" fill="#0f3f6c"/>
<text x="415.80" y="19.60" font-size="7.8" text-anchor="start" fill="#2b2b2b" stroke="#2b2b2b" stroke-width="0.12" textLength="35.6" lengthAdjust="spacingAndGlyphs" >Mean value</text>
<path d="M406.2,25.3 H412.4 M409.3,25.3 V29.099999999999998 M406.2,29.099999999999998 H412.4" stroke="#3ea8d4" stroke-width="0.9" fill="none"/>
<text x="415.80" y="29.80" font-size="7.8" text-anchor="start" fill="#2b2b2b" stroke="#2b2b2b" stroke-width="0.12" textLength="59" lengthAdjust="spacingAndGlyphs" >Standard deviation</text>
<circle cx="409.2" cy="302.20" r="1.7" fill="#0f3f6c"/>
<text x="415.80" y="304.60" font-size="7.8" text-anchor="start" fill="#2b2b2b" stroke="#2b2b2b" stroke-width="0.12" textLength="35.6" lengthAdjust="spacingAndGlyphs" >Mean value</text>
<path d="M406.2,310.3 H412.4 M409.3,310.3 V314.09999999999997 M406.2,314.09999999999997 H412.4" stroke="#3ea8d4" stroke-width="0.9" fill="none"/>
<text x="415.80" y="314.80" font-size="7.8" text-anchor="start" fill="#2b2b2b" stroke="#2b2b2b" stroke-width="0.12" textLength="59" lengthAdjust="spacingAndGlyphs" >Standard deviation</text>
</svg></body></html>
